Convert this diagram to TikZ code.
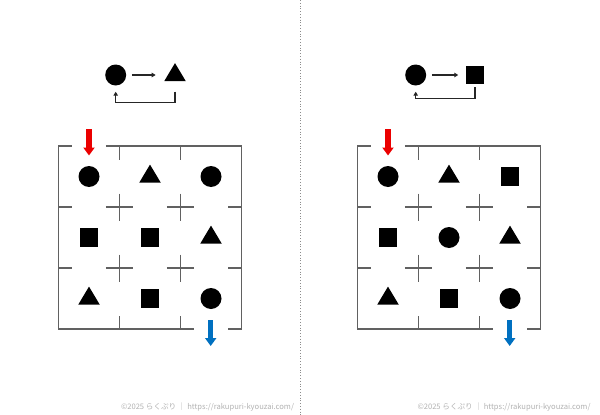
\documentclass[tikz,border=0pt]{standalone}
\usepackage{fontspec}
\newfontfamily\jpfont{Noto Sans CJK JP}
\usetikzlibrary{shapes.geometric,arrows.meta}
\definecolor{exitblue}{RGB}{0,112,192}
\definecolor{enterred}{RGB}{235,0,0}
\tikzset{
	circ/.style={circle, fill, inner sep=0pt, minimum size=21pt},
	sq/.style={rectangle, fill, inner sep=0pt, minimum size=18.5pt},
	tri/.style={isosceles triangle, shape border rotate=90, isosceles triangle stretches,
		fill, inner sep=0pt, minimum width=21.5pt, minimum height=18pt},
	wall/.style={draw=black!62, line width=1.25pt},
	legarr/.style={black!85, line width=1.1pt, -{Triangle[length=4pt,width=4.5pt]}},
	bigarr/.style={line width=5.5pt, -{Triangle[length=8pt,width=11pt]}},
	foot/.style={text=black!30, font=\jpfont\fontsize{7.6}{8}\selectfont}
}
\begin{document}
\begin{tikzpicture}[x=1pt, y=-1pt]
	\path[fill=white] (0,0) rectangle (600,415);
	\useasboundingbox (0,0) rectangle (600,415);

	\draw[black!45, dotted, line width=0.8pt] (300,0) -- (300,415);

	% rules
	\node[circ] (lc) at (115.7,75) {};
	\node[tri] (lt) at (175,75) {};
	\draw[legarr, shorten <=5.5pt, shorten >=12pt] (lc) -- (lt);
	\draw[legarr] ([yshift=-16.5pt]lt.center) -- ([yshift=-27.3pt]lt.center) -| ([yshift=-6pt]lc.south);

	\node[circ] (rc) at (415.7,75) {};
	\node[sq] (rs) at (475,75) {};
	\draw[legarr, shorten <=5.5pt, shorten >=7.3pt] (rc) -- (rs);
	\draw[legarr] ([yshift=-2.7pt]rs.south) -- ([yshift=-14pt]rs.south) -| ([yshift=-6pt]rc.south);

	% mazes
	\foreach \m/\x in {L/58.3, R/357.3} {
		\begin{scope}[shift={(\x,146)}]
			\draw[wall] (13.5,0) -- (0,0) -- (0,183) -- (135.5,183);
			\draw[wall] (47.5,0) -- (183,0) -- (183,183) -- (169.5,183);
			\foreach \i in {61,122} {
				\draw[wall] (\i,0) -- ++(0,13.5) (\i,183) -- ++(0,-13.5)
					(0,\i) -- ++(13.5,0) (183,\i) -- ++(-13.5,0);
				\foreach \j in {61,122}
					\draw[wall] (\i-13.5,\j) -- (\i+13.5,\j) (\i,\j-13.5) -- (\i,\j+13.5);
			}
			\coordinate (\m in) at (30.7,-17);
			\coordinate (\m gate) at (30.7,9.5);
			\coordinate (\m out) at (152.4,174);
			\coordinate (\m exit) at (152.4,200);
			\draw[bigarr, enterred] (\m in) -- (\m gate);
			\draw[bigarr, exitblue] (\m out) -- (\m exit);
		\end{scope}
	}

	\begin{scope}[shift={(58.3,146)}]
		\foreach \s/\c/\r in {circ/0/0, tri/1/0, circ/2/0, sq/0/1, sq/1/1, tri/2/1, tri/0/2, sq/1/2, circ/2/2}
			\node[\s] (L\c\r) at (30.7+61*\c, 30.5+61*\r) {};
	\end{scope}
	\begin{scope}[shift={(357.3,146)}]
		\foreach \s/\c/\r in {circ/0/0, tri/1/0, sq/2/0, sq/0/1, circ/1/1, tri/2/1, tri/0/2, sq/1/2, circ/2/2}
			\node[\s] (R\c\r) at (30.7+61*\c, 30.5+61*\r) {};
	\end{scope}

	\node[foot] (fl) at (207.5,407) {©2025 らくぷり ｜ https://rakupuri-kyouzai.com/};
	\node[foot] (fr) at (504,407) {©2025 らくぷり ｜ https://rakupuri-kyouzai.com/};
\end{tikzpicture}
\end{document}
